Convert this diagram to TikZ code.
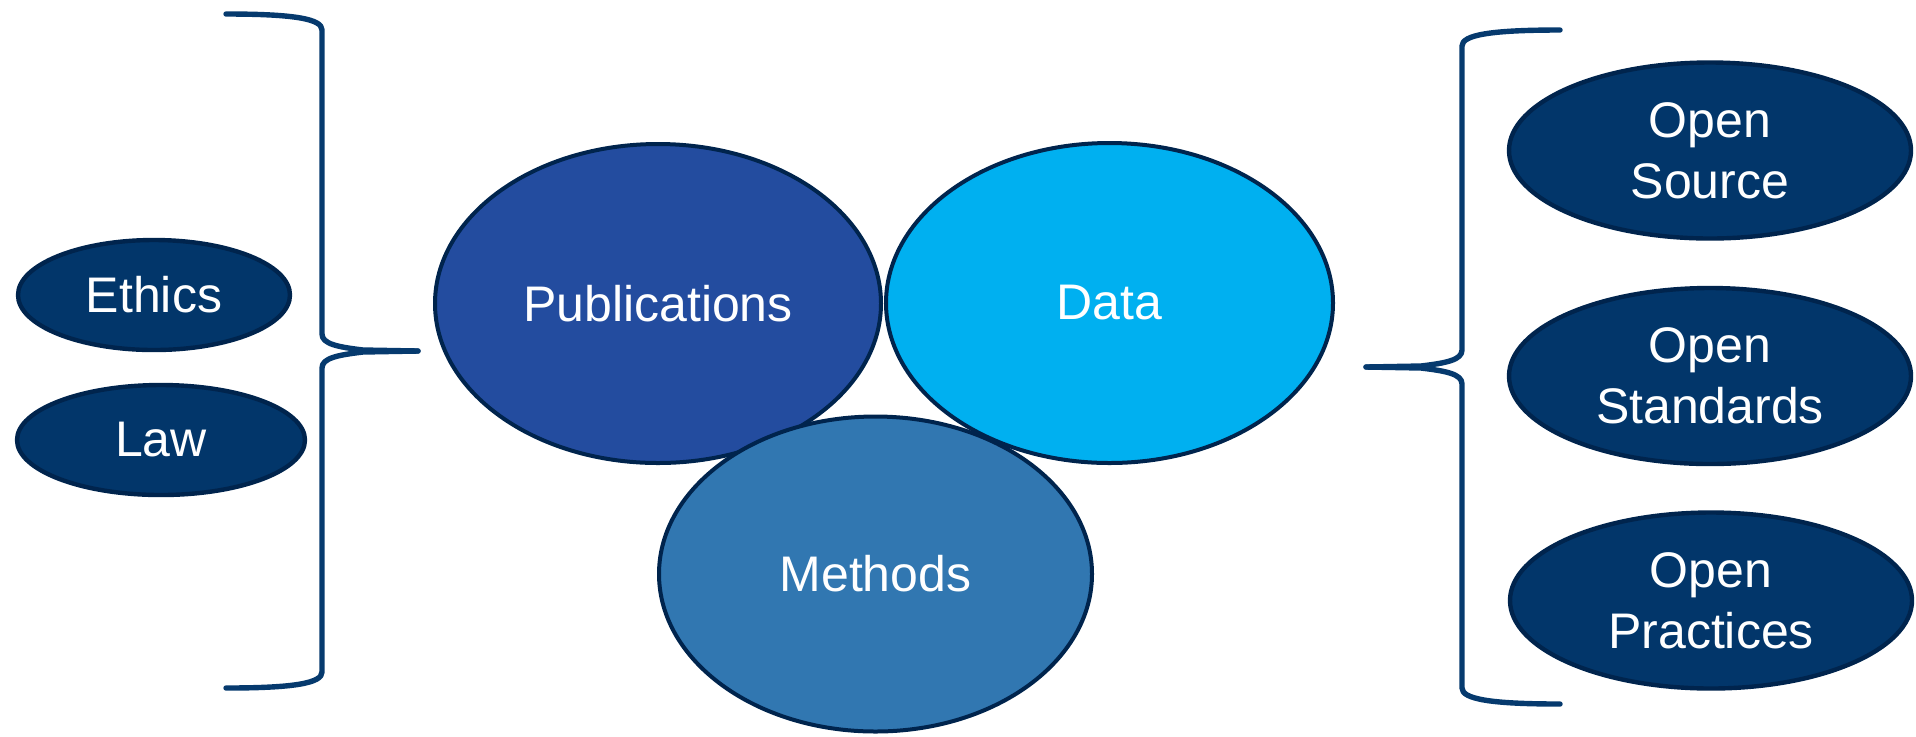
\documentclass[tikz,border=0pt]{standalone}
\usepackage{fontspec}
\setmainfont{Liberation Sans}
\usetikzlibrary{shapes.geometric}
\definecolor{pubblue}{HTML}{234C9F}
\definecolor{datablue}{HTML}{00B0F0}
\definecolor{methblue}{HTML}{3177B1}
\definecolor{navy}{HTML}{02366A}
\definecolor{edgenavy}{HTML}{00244D}
\definecolor{bracecol}{HTML}{063A6E}
\tikzset{
  bigell/.style={ellipse, draw=edgenavy, line width=2pt, inner sep=0pt,
    text=white, font=\fontsize{25}{30.5}\selectfont, align=center},
  smallell/.style={ellipse, draw=edgenavy, fill=navy, line width=2.2pt, inner sep=0pt,
    text=white, font=\fontsize{25}{30.5}\selectfont, align=center},
  bracestyle/.style={draw=bracecol, line width=2.7pt, line cap=round, line join=round}
}
\begin{document}
\begin{tikzpicture}[x=0.5pt,y=-0.5pt]
\useasboundingbox (0,0) rectangle (1916,736);
% central ellipses
\node[bigell, fill=pubblue, minimum width=223pt, minimum height=159.5pt] (pub) at (658,303.5) {Publications};
\node[bigell, fill=datablue, minimum width=223.5pt, minimum height=160pt] (data) at (1109.5,303) {Data};
\node[bigell, fill=methblue, minimum width=216.5pt, minimum height=157.5pt] (meth) at (875.5,574) {Methods};
% left ellipses
\node[smallell, minimum width=136pt, minimum height=55pt] (ethics) at (154,295) {Ethics};
\node[smallell, minimum width=144pt, minimum height=55pt] (law) at (161,440) {Law};
% right ellipses
\node[smallell, minimum width=201pt, minimum height=88pt] (osrc) at (1710,150.5) {Open\\Source};
\node[smallell, minimum width=201pt, minimum height=88pt] (ostd) at (1710,376) {Open\\Standards};
\node[smallell, minimum width=201pt, minimum height=88pt] (oprac) at (1711,600.5) {Open\\Practices};
% left brace
\coordinate (lbtop) at (226,14);
\coordinate (lbtip) at (418,351);
\coordinate (lbbot) at (226,688);
\draw[bracestyle] (lbtop) .. controls (295,14) and (322,19) .. (322,30)
  -- (322,334) .. controls (322,344) and (338,347) .. (363,350) -- (lbtip);
\draw[bracestyle] (lbtip) -- (363,352) .. controls (338,355) and (322,358) .. (322,368)
  -- (322,672) .. controls (322,683) and (295,688) .. (lbbot);
% right brace
\coordinate (rbtop) at (1560,30);
\coordinate (rbtip) at (1366,367);
\coordinate (rbbot) at (1560,704);
\draw[bracestyle] (rbtop) .. controls (1490,30) and (1462,35) .. (1462,46)
  -- (1462,350) .. controls (1462,360) and (1446,363) .. (1421,366) -- (rbtip);
\draw[bracestyle] (rbtip) -- (1421,368) .. controls (1446,371) and (1462,374) .. (1462,384)
  -- (1462,688) .. controls (1462,699) and (1490,704) .. (rbbot);
\end{tikzpicture}
\end{document}
